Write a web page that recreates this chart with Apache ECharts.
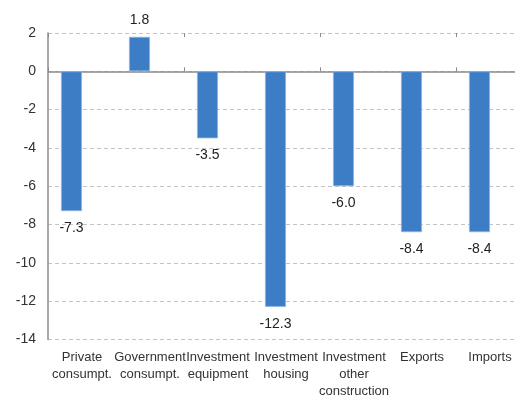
<!DOCTYPE html>
<html><head><meta charset="utf-8">
<script src="https://cdn.jsdelivr.net/npm/echarts@6/dist/echarts.min.js"></script>
<style>html,body{margin:0;padding:0;background:#fff}#c{width:515px;height:400px}</style>
</head><body><div id="c"></div>
<script>
const categories = ["Private\nconsumpt.", "Government\nconsumpt.", "Investment\nequipment", "Investment\nhousing", "Investment\nother\nconstruction", "Exports", "Imports"];
const values = [-7.3, 1.8, -3.5, -12.3, -6.0, -8.4, -8.4];
const yMin = -14, yMax = 2, yStep = 2;

const chart = echarts.init(document.getElementById('c'), null, {renderer: 'canvas'});
const font = 'Liberation Sans, Arial, sans-serif';
chart.setOption({
  animation: false,
  grid: {left: 48, top: 33, height: 306.4, width: 476, containLabel: false, outerBoundsMode: 'none'},
  xAxis: [
    {type: 'category', data: categories, position: 'bottom', axisLine: {onZero: false, show: false},
     axisTick: {show: false},
     axisLabel: {interval: 0, color: '#333', fontSize: 13, fontFamily: font, lineHeight: 17, margin: 10}},
    {type: 'category', data: categories, axisLine: {onZero: true, lineStyle: {color: '#8c8c8c', width: 1.5}},
     axisTick: {show: true, length: 4, lineStyle: {color: '#8c8c8c'}}, axisLabel: {show: false}},
    {type: 'category', data: categories, axisLine: {onZero: true, show: false},
     axisTick: {show: true, inside: true, length: 4, lineStyle: {color: '#8c8c8c'}}, axisLabel: {show: false}}
  ],
  yAxis: {type: 'value', min: yMin, max: yMax, interval: yStep,
    axisLine: {show: true, lineStyle: {color: '#8c8c8c', width: 1.5}},
    axisTick: {show: false},
    axisLabel: {color: '#333', fontSize: 14, fontFamily: font, margin: 12},
    splitLine: {show: true, lineStyle: {color: '#c4c4c4', type: [4, 3]}}},
  series: [
    {type: 'bar', xAxisIndex: 0, barWidth: 21, barGap: '0%',
     data: values.map(v => ({value: v, label: {position: v >= 0 ? 'top' : 'bottom'}})),
     itemStyle: {color: '#3d7dc6', borderColor: '#8fb6e3', borderWidth: 0.8},
     label: {show: true, distance: 10, color: '#222', fontSize: 14, fontFamily: font,
       formatter: p => p.value.toFixed(1)}},
    {type: 'bar', xAxisIndex: 0, barWidth: 21, data: values.map(() => null), itemStyle: {color: 'transparent'}}
  ]
});
</script></body></html>
